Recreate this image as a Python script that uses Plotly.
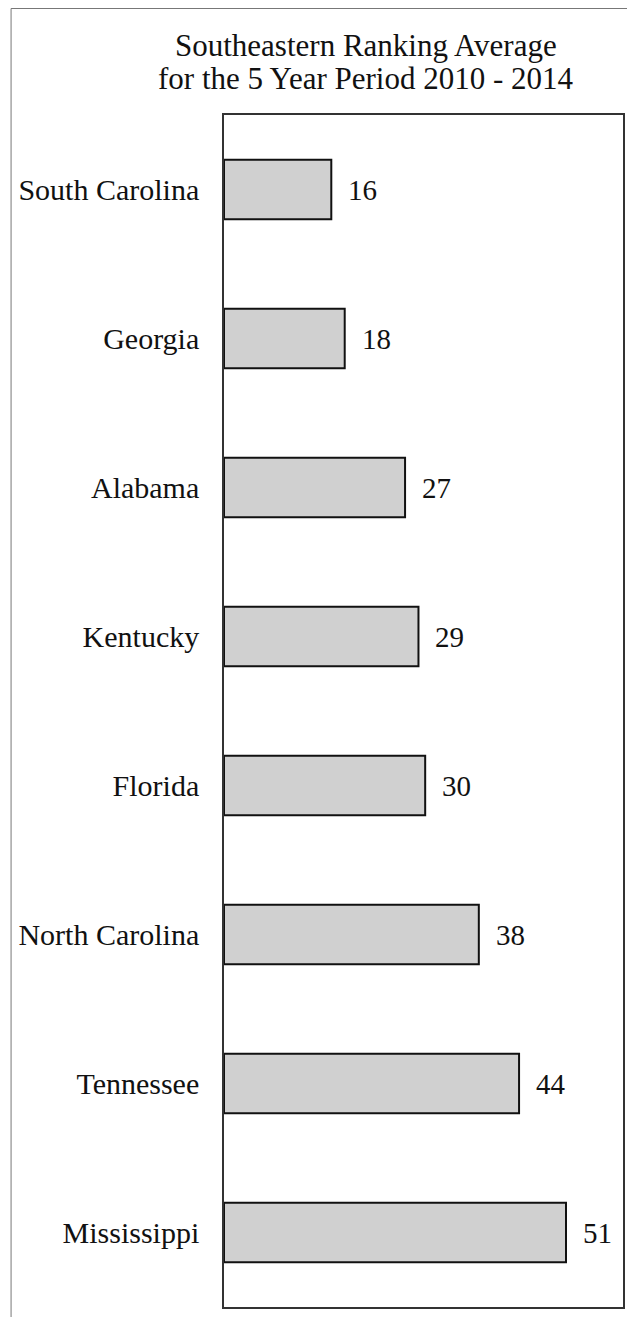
import plotly.graph_objects as go

states = ["South Carolina", "Georgia", "Alabama", "Kentucky", "Florida",
          "North Carolina", "Tennessee", "Mississippi"]
rank_avg = [16, 18, 27, 29, 30, 38, 44, 51]
title_lines = ["Southeastern Ranking Average", "for the 5 Year Period 2010 - 2014"]

FONT = "Liberation Serif"
OFF = 8  # default page body margin

W, H = 635 - 2 * OFF, 1325 - 2 * OFF
# plot frame in page pixels -> figure pixels
L, R, T, B = 224 - OFF, 625 - OFF, 115 - OFF, 1307 - OFF

def px(x):
    return (x - OFF - L) / (R - L)

def py(y):
    return (B - (y - OFF)) / (B - T)

fig = go.Figure()
fig.add_trace(go.Bar(
    x=rank_avg, y=states, orientation="h",
    marker=dict(color="#d0d0d0", line=dict(color="#111111", width=2)),
    hoverinfo="skip",
))

for s, v in zip(states, rank_avg):
    fig.add_annotation(x=v, y=s, xref="x", yref="y", text=str(v),
                       showarrow=False, xanchor="left", xshift=15,
                       font=dict(family=FONT, size=29, color="#111111"))

for line, yy in zip(title_lines, [45, 78]):
    fig.add_annotation(x=px(367), y=py(yy), xref="paper", yref="paper",
                       text=line, showarrow=False, xanchor="center",
                       yanchor="middle",
                       font=dict(family=FONT, size=31, color="#111111"))

# outer page border
fig.add_shape(type="rect", xref="paper", yref="paper",
              x0=px(10), x1=px(633), y0=py(1324), y1=py(8.5),
              line=dict(color="#777777", width=1))

fig.update_layout(
    width=W, height=H,
    margin=dict(l=L, r=W - R, t=T, b=H - B, pad=0),
    paper_bgcolor="white", plot_bgcolor="white",
    bargap=0.6, showlegend=False,
    font=dict(family=FONT, size=30, color="#111111"),
)
fig.update_xaxes(range=[0, 59.5], showgrid=False, zeroline=False,
                 showticklabels=False, ticks="",
                 showline=True, mirror=True, linecolor="#333333", linewidth=1.5)
fig.update_yaxes(categoryorder="array", categoryarray=states,
                 autorange="reversed", showgrid=False, zeroline=False,
                 ticks="", ticklabelstandoff=17,
                 tickfont=dict(family=FONT, size=30, color="#111111"),
                 showline=True, mirror=True, linecolor="#333333", linewidth=1.5)

fig.write_html("out.html")
